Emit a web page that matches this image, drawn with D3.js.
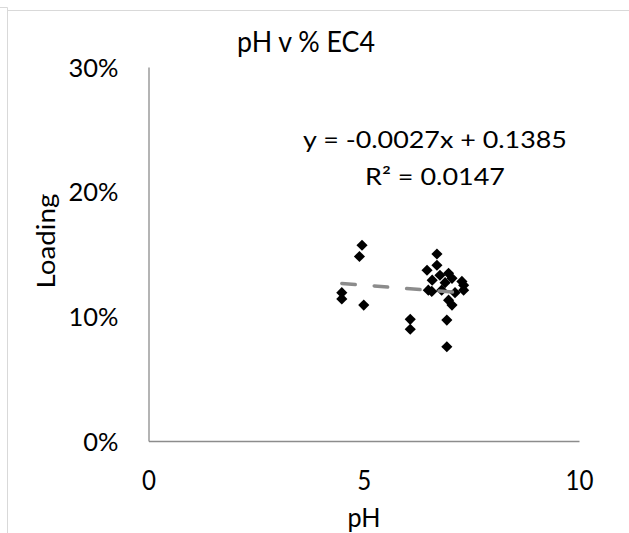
<!DOCTYPE html>
<html>
<head>
<meta charset="utf-8">
<script src="https://cdn.jsdelivr.net/npm/d3@7/dist/d3.min.js"></script>
<style>
  html, body { margin: 0; padding: 0; background: #fff; }
  svg { display: block; }
</style>
</head>
<body>
<svg id="chart" width="629" height="533" font-family="Lato, 'Open Sans', sans-serif"></svg>
<script>
const title = "pH v % EC4";
const xTitle = "pH";
const yTitle = "Loading";
const xTicks = [0, 5, 10];
const yTicks = [0, 0.1, 0.2, 0.3];
const phValues = [4.96, 4.90, 4.49, 4.49, 5.00, 6.08, 6.08, 6.70, 6.70, 6.47, 6.97, 6.77, 7.05, 7.28, 7.32, 6.50, 6.81, 7.12, 6.97, 6.93, 6.93, 7.05, 7.32, 6.58, 6.89, 6.59];
const loadingValues = [0.157, 0.148, 0.119, 0.114, 0.109, 0.0976, 0.0896, 0.150, 0.141, 0.137, 0.1345, 0.133, 0.1305, 0.128, 0.121, 0.121, 0.121, 0.119, 0.113, 0.097, 0.0756, 0.109, 0.125, 0.120, 0.127, 0.129];
const slope = -0.0027, intercept = 0.1385;
const eqText = "y = -0.0027x + 0.1385";
const r2Text = "R² = 0.0147";

const svg = d3.select("#chart");

// place text at (tx,ty), rotated, with font size fs, stretched horizontally to a wanted width
function stretched(sel, tx, ty, rot, fs, width) {
  sel.attr("x", 0).attr("y", 0).attr("font-size", fs).attr("transform", `translate(${tx},${ty}) rotate(${rot})`);
  const len = sel.node().getComputedTextLength();
  const k = len > 0 && width ? width / len : 1;
  sel.attr("transform", `translate(${tx},${ty}) rotate(${rot}) scale(${k.toFixed(4)},1)`);
  return sel;
}

function draw() {
  svg.selectAll("*").remove();

  svg.append("path").attr("d", "M0,7.5H7.5V533").attr("fill", "none").attr("stroke", "#d9d9d9").attr("stroke-width", 1);
  svg.append("path").attr("d", "M8,10.5H629").attr("fill", "none").attr("stroke", "#d9d9d9").attr("stroke-width", 1);

  const x = d3.scaleLinear().domain([0, 10]).range([148.5, 579]);
  const y = d3.scaleLinear().domain([0, 0.3]).range([441, 67]);

  const xAxis = svg.append("g").attr("transform", `translate(0,${y(0)})`)
    .call(d3.axisBottom(x).tickValues(xTicks).tickSize(0).tickFormat(d3.format("d")));
  const yAxis = svg.append("g").attr("transform", `translate(${x(0)},0)`)
    .call(d3.axisLeft(y).tickValues(yTicks).tickSize(0).tickFormat(d3.format(".0%")));
  [xAxis, yAxis].forEach(a => {
    a.attr("font-family", null).attr("font-size", null);
    a.select(".domain").attr("stroke", "#8c8c8c").attr("stroke-width", 1.3);
    a.selectAll("text").attr("fill", "#000").attr("x", 0).attr("y", 0);
  });

  xAxis.selectAll("text").attr("dy", null).attr("font-size", 26);
  const x10 = xAxis.selectAll("text").filter(d => d === 10).node();
  const kx = 28 / x10.getComputedTextLength();
  xAxis.selectAll("text").attr("transform", `translate(0,49) scale(${kx.toFixed(4)},1)`);

  yAxis.selectAll("text").attr("text-anchor", "end").attr("dy", "0.36em").attr("font-size", 25);
  const y30 = yAxis.selectAll("text").filter(d => d === 0.3).node();
  const ky = 50 / y30.getComputedTextLength();
  yAxis.selectAll("text").attr("transform", `translate(-30,0) scale(${ky.toFixed(4)},1)`);

  const data = phValues.map((p, i) => ({ p, l: loadingValues[i] }));
  svg.append("g").selectAll("path").data(data).join("path")
    .attr("d", d3.symbol(d3.symbolSquare, 62)())
    .attr("transform", d => `translate(${x(d.p)},${y(d.l)}) rotate(45)`)
    .attr("fill", "#000");

  const xMin = d3.min(phValues), xMax = d3.max(phValues);
  svg.append("line")
    .attr("x1", x(xMin)).attr("y1", y(slope * xMin + intercept))
    .attr("x2", x(xMax)).attr("y2", y(slope * xMax + intercept))
    .attr("stroke", "#8c8c8c").attr("stroke-width", 3.5)
    .attr("stroke-dasharray", "13.5,19").attr("stroke-linecap", "round");

  stretched(svg.append("text").attr("text-anchor", "middle").text(title), 306, 52, 0, 29, 138);
  stretched(svg.append("text").attr("text-anchor", "middle").text(xTitle), 364, 527, 0, 26, 33);
  stretched(svg.append("text").attr("text-anchor", "middle").text(yTitle), 55, 241, -90, 25, 95);

  stretched(svg.append("text").attr("text-anchor", "middle").text(eqText), 435, 148, 0, 24, 264);
  stretched(svg.append("text").attr("text-anchor", "middle").text(r2Text), 435, 185, 0, 24, 140);
}

draw();
if (document.fonts && document.fonts.load) {
  document.fonts.load("20px Lato").then(draw).catch(() => {});
}
</script>
</body>
</html>
